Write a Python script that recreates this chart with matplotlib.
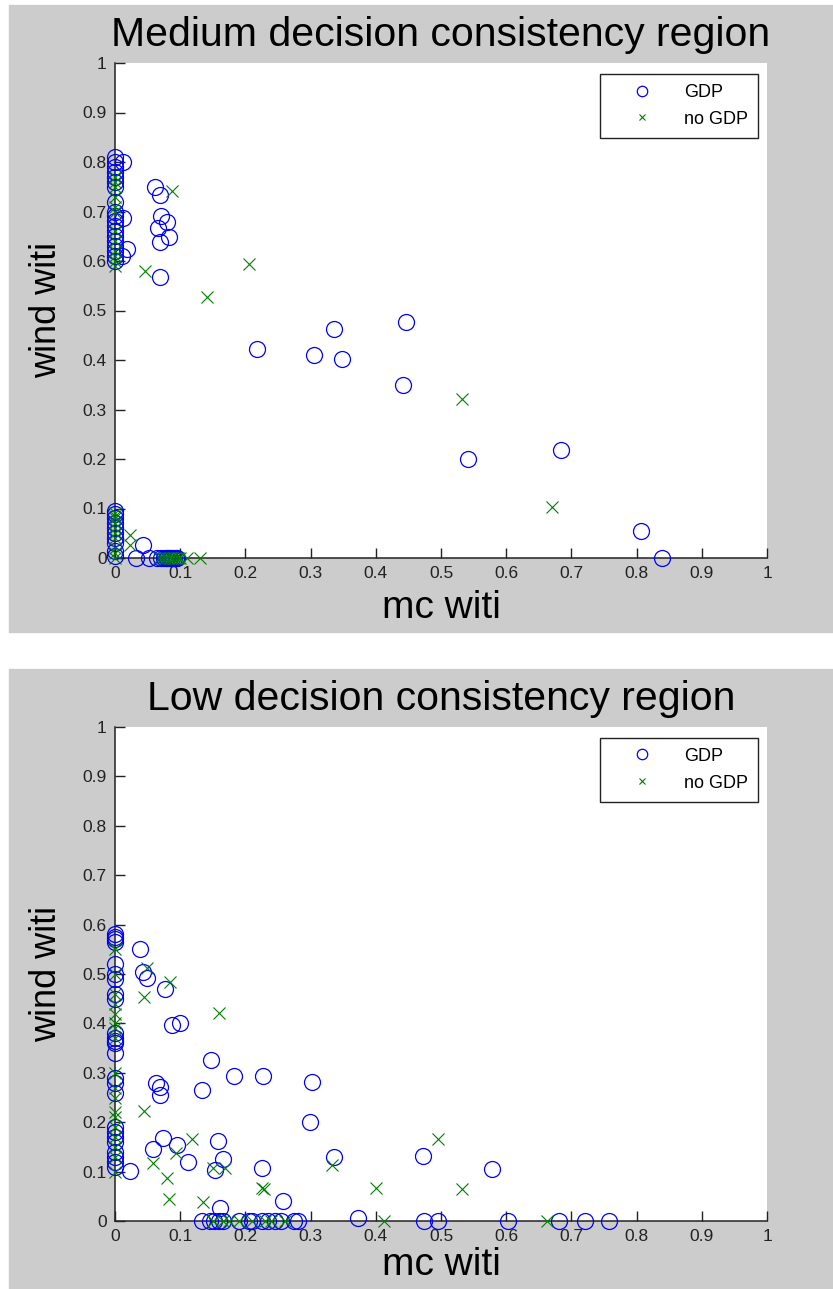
"""Two MATLAB-style scatter panels: wind witi vs mc witi, GDP / no GDP."""
import matplotlib
matplotlib.use("Agg")
import matplotlib.pyplot as plt
from matplotlib.patches import Rectangle

NARROW = ["Liberation Sans Narrow", "Liberation Sans", "DejaVu Sans"]
REGULAR = ["Liberation Sans", "DejaVu Sans"]

BLUE = (0.0, 0.0, 1.0)
GREEN = (0.0, 0.5, 0.0)
GREY = "#cccccc"

TICKS = [0, 0.1, 0.2, 0.3, 0.4, 0.5, 0.6, 0.7, 0.8, 0.9, 1]
TICK_LABELS = ["0", "0.1", "0.2", "0.3", "0.4", "0.5", "0.6", "0.7", "0.8", "0.9", "1"]

# ---- medium decision consistency region ----
med_gdp_x = (
    [0.0] * 19
    + [0.012, 0.012, 0.018, 0.010]
    + [0.061, 0.069, 0.071, 0.080, 0.066, 0.083, 0.069, 0.069]
    + [0.218, 0.305, 0.336, 0.348, 0.446, 0.442, 0.541, 0.684, 0.807, 0.839]
    + [0.0] * 10
    + [0.043, 0.032, 0.052]
    + [0.065, 0.070, 0.075, 0.078, 0.080, 0.083, 0.085, 0.088, 0.090, 0.093, 0.095]
)
med_gdp_y = (
    [0.81, 0.80, 0.79, 0.78, 0.77, 0.76, 0.75, 0.72, 0.70, 0.69,
     0.68, 0.67, 0.66, 0.65, 0.64, 0.63, 0.62, 0.61, 0.60]
    + [0.80, 0.687, 0.624, 0.61]
    + [0.75, 0.733, 0.69, 0.679, 0.667, 0.649, 0.638, 0.568]
    + [0.422, 0.41, 0.463, 0.402, 0.477, 0.349, 0.20, 0.218, 0.055, 0.0]
    + [0.095, 0.088, 0.08, 0.07, 0.06, 0.05, 0.04, 0.03, 0.015, 0.005]
    + [0.026, 0.0, 0.0]
    + [0.0] * 11
)
med_nogdp_x = (
    [0.0] * 12
    + [0.0] * 10
    + [0.087, 0.046, 0.206, 0.141, 0.532, 0.670, 0.023, 0.023]
    + [0.068, 0.072, 0.076, 0.080, 0.084, 0.088, 0.092, 0.096, 0.100, 0.110, 0.130]
)
med_nogdp_y = (
    [0.77, 0.76, 0.75, 0.73, 0.71, 0.70, 0.66, 0.64, 0.62, 0.61, 0.60, 0.59]
    + [0.09, 0.085, 0.08, 0.07, 0.06, 0.05, 0.04, 0.02, 0.01, 0.0]
    + [0.741, 0.58, 0.594, 0.527, 0.321, 0.104, 0.046, 0.026]
    + [0.0] * 11
)

# ---- low decision consistency region ----
low_gdp_x = (
    [0.0] * 25
    + [0.039, 0.043, 0.049, 0.077, 0.087, 0.100, 0.147, 0.183, 0.227, 0.302,
       0.063, 0.069, 0.134, 0.069, 0.299, 0.074, 0.158, 0.058, 0.095, 0.112,
       0.166, 0.153, 0.225, 0.336, 0.023, 0.257, 0.161, 0.373, 0.473, 0.578]
    + [0.133, 0.145, 0.152, 0.160, 0.165, 0.190, 0.205, 0.210, 0.225, 0.235,
       0.245, 0.255, 0.275, 0.280, 0.474, 0.496, 0.603, 0.681, 0.721, 0.758]
)
low_gdp_y = (
    [0.58, 0.575, 0.57, 0.565, 0.52, 0.50, 0.49, 0.46, 0.45, 0.38,
     0.37, 0.365, 0.36, 0.34, 0.29, 0.28, 0.26, 0.19, 0.18, 0.17,
     0.16, 0.14, 0.13, 0.12, 0.11]
    + [0.551, 0.504, 0.492, 0.47, 0.397, 0.40, 0.326, 0.294, 0.294, 0.281,
       0.279, 0.271, 0.265, 0.255, 0.20, 0.168, 0.162, 0.146, 0.154, 0.12,
       0.126, 0.103, 0.107, 0.13, 0.101, 0.04, 0.026, 0.006, 0.131, 0.105]
    + [0.0] * 20
)
low_nogdp_x = (
    [0.0] * 18
    + [0.049, 0.084, 0.044, 0.160, 0.044, 0.118, 0.058, 0.094, 0.080, 0.083,
       0.135, 0.150, 0.169, 0.225, 0.228, 0.333, 0.400, 0.496, 0.532]
    + [0.150, 0.165, 0.175, 0.190, 0.210, 0.230, 0.240, 0.260, 0.413, 0.662]
)
low_nogdp_y = (
    [0.55, 0.50, 0.46, 0.44, 0.42, 0.40, 0.39, 0.37, 0.30, 0.27,
     0.25, 0.22, 0.21, 0.19, 0.17, 0.15, 0.13, 0.10]
    + [0.512, 0.484, 0.453, 0.421, 0.223, 0.166, 0.117, 0.138, 0.087, 0.045,
       0.038, 0.107, 0.107, 0.067, 0.065, 0.113, 0.067, 0.166, 0.065]
    + [0.0] * 10
)

W, H = 833, 1289


def frac_rect(x0, y0, x1, y1):
    # pixel box (top-left origin) -> figure fraction [left, bottom, width, height]
    return [x0 / W, 1 - y1 / H, (x1 - x0) / W, (y1 - y0) / H]


def draw_panel(fig, ax_box, title, gdp_x, gdp_y, no_x, no_y, xlabel_pad):
    ax = fig.add_axes(frac_rect(*ax_box))
    ax.set_zorder(5)
    ax.plot(gdp_x, gdp_y, "o", mfc="none", mec=BLUE, ms=11.5, mew=0.9,
            label="GDP", zorder=3, clip_on=False)
    ax.plot(no_x, no_y, "x", color=GREEN, ms=8, mew=0.8,
            label="no GDP", zorder=4, clip_on=False)

    ax.set_xlim(0, 1)
    ax.set_ylim(0, 1)
    ax.set_xticks(TICKS)
    ax.set_yticks(TICKS)
    ax.set_xticklabels(TICK_LABELS, family=NARROW, fontsize=12.5)
    ax.set_yticklabels(TICK_LABELS, family=NARROW, fontsize=12.5)
    ax.tick_params(direction="in", length=7, width=1, pad=6, colors="#222222")
    for side in ("top", "right"):
        ax.spines[side].set_visible(False)
    for side in ("left", "bottom"):
        ax.spines[side].set_linewidth(1.1)
        ax.spines[side].set_color("#222222")

    ax.set_title(title, family=REGULAR, fontsize=29.5, pad=12)
    ax.set_xlabel("mc witi", family=NARROW, fontsize=28, labelpad=xlabel_pad)
    ax.set_ylabel("wind witi", family=NARROW, fontsize=26, labelpad=13)

    leg = ax.legend(loc="upper right", bbox_to_anchor=(0.986, 0.978),
                    borderaxespad=0, fancybox=False, framealpha=1,
                    edgecolor="#222222", prop={"family": REGULAR, "size": 13},
                    handlelength=3.6, handletextpad=0.5, borderpad=0.55,
                    labelspacing=0.55)
    leg.get_frame().set_linewidth(1.0)
    hs = leg.legend_handles
    hs[0].set_markersize(7.5)
    hs[1].set_markersize(4.5)
    return ax


fig = plt.figure(figsize=(W / 100, H / 100), dpi=100)
fig.patch.set_facecolor("white")
fig.patches.append(Rectangle((9 / W, 1 - 632 / H), 1, 627 / H,
                             transform=fig.transFigure, color=GREY, zorder=-10))
fig.patches.append(Rectangle((9 / W, 0), 1, 620 / H,
                             transform=fig.transFigure, color=GREY, zorder=-10))

draw_panel(fig, (115, 63, 767, 558), "Medium decision consistency region",
           med_gdp_x, med_gdp_y, med_nogdp_x, med_nogdp_y, 6)
draw_panel(fig, (115, 727, 767, 1221), "Low decision consistency region",
           low_gdp_x, low_gdp_y, low_nogdp_x, low_nogdp_y, 2)

fig.savefig("out.png", dpi=100, facecolor=fig.get_facecolor())
print("Saved: out.png")
